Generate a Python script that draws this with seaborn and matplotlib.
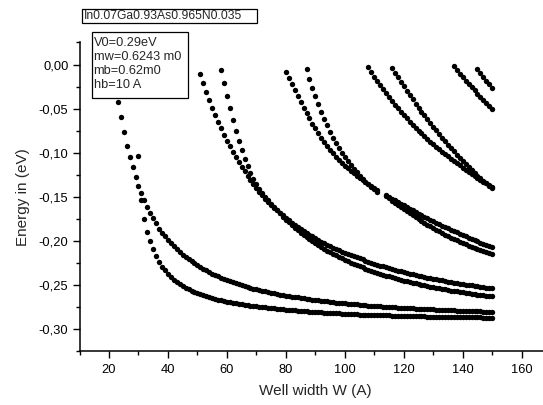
import numpy as np
import pandas as pd
import matplotlib
matplotlib.use("Agg")
import matplotlib.pyplot as plt
from matplotlib.ticker import MultipleLocator, AutoMinorLocator, FuncFormatter
from matplotlib.patches import Rectangle
import seaborn as sns

# Bound-state energies (eV) versus well width W (Angstrom), one entry per 1 A step.
# Each branch: first well width and the list of energies.
w_1a = 23
e_1a = [-0.042, -0.060, -0.0765, -0.092, -0.1045, -0.1166, -0.128, -0.138, -0.146, -0.154,
        -0.161, -0.168, -0.174, -0.180, -0.186,
        -0.1906, -0.1949, -0.1989, -0.2027, -0.2062, -0.2095, -0.2125, -0.2154, -0.2182, -0.2207,
        -0.2232, -0.2255, -0.2277,
        -0.2298, -0.2317, -0.2335, -0.2353, -0.2370, -0.2386, -0.2401, -0.2415, -0.2429, -0.2443,
        -0.2456, -0.2468, -0.2480, -0.2491, -0.2502, -0.2512, -0.2522, -0.2531, -0.2540, -0.2548,
        -0.2557, -0.2565, -0.2573, -0.2580, -0.2587, -0.2594, -0.2601, -0.2608, -0.2614, -0.2620,
        -0.2626, -0.2631, -0.2636, -0.2641, -0.2646, -0.2651, -0.2656, -0.2661, -0.2666, -0.2670,
        -0.2674, -0.2678, -0.2682, -0.2686, -0.2690, -0.2694, -0.2698, -0.2702, -0.2705, -0.2708,
        -0.2711, -0.2714, -0.2717, -0.2720, -0.2723, -0.2726, -0.2729, -0.2732, -0.2735, -0.2737,
        -0.2740, -0.2742, -0.2744, -0.2746, -0.2748, -0.2750, -0.2752, -0.2755, -0.2757, -0.2759,
        -0.2761, -0.2763, -0.2765, -0.2767, -0.2769, -0.2771, -0.2773, -0.2775, -0.2776, -0.2777,
        -0.2779, -0.2780, -0.2782, -0.2783, -0.2785, -0.2786, -0.2788, -0.2789, -0.2791, -0.2792,
        -0.2793, -0.2794, -0.2796, -0.2797, -0.2798, -0.2799, -0.2800, -0.2802, -0.2803, -0.2804]

w_1b = 30
e_1b = [-0.104, -0.154, -0.1755, -0.1896, -0.200, -0.2095, -0.217, -0.2236,
        -0.2290, -0.2335, -0.2375, -0.2410, -0.2440, -0.2466, -0.2489, -0.2510, -0.2529, -0.2546,
        -0.2562, -0.2577, -0.2591,
        -0.2604, -0.2616, -0.2627, -0.2637, -0.2647, -0.2656, -0.2665, -0.2673, -0.2681, -0.2688,
        -0.2695, -0.2701, -0.2707, -0.2713, -0.2718, -0.2723, -0.2728, -0.2733, -0.2737, -0.2741,
        -0.2745, -0.2749, -0.2753, -0.2757, -0.2761, -0.2765, -0.2768, -0.2771, -0.2775, -0.2778,
        -0.2781, -0.2784, -0.2787, -0.2790, -0.2793, -0.2796, -0.2799, -0.2801, -0.2804, -0.2806,
        -0.2808, -0.2810, -0.2812, -0.2814, -0.2816, -0.2818, -0.2820, -0.2822, -0.2824, -0.2826,
        -0.2828, -0.2829, -0.2831, -0.2832, -0.2834, -0.2835, -0.2836, -0.2837, -0.2839, -0.2840,
        -0.2841, -0.2842, -0.2843, -0.2844, -0.2845, -0.2846, -0.2847, -0.2848, -0.2849, -0.2850,
        -0.2851, -0.2852, -0.2853, -0.2854, -0.2854, -0.2855, -0.2856, -0.2857, -0.2857, -0.2858,
        -0.2859, -0.2859, -0.2860, -0.2861, -0.2861, -0.2862, -0.2862, -0.2863, -0.2863, -0.2864,
        -0.2865, -0.2865, -0.2866, -0.2866, -0.2867, -0.2867, -0.2868, -0.2868, -0.2869, -0.2870]

w_2a = 51
e_2a = [-0.0110, -0.0212, -0.0310, -0.0403, -0.0490, -0.0572, -0.0650, -0.0724, -0.0795, -0.0863,
        -0.0928, -0.0990, -0.1049, -0.1106, -0.1160, -0.1212, -0.1262, -0.1310, -0.1356, -0.1400,
        -0.1442, -0.1482, -0.1521, -0.1558,
        -0.1591, -0.1623, -0.1654, -0.1683, -0.1711, -0.1739,
        -0.1766, -0.1792, -0.1817, -0.1841, -0.1864, -0.1886, -0.1908, -0.1929, -0.1949, -0.1969,
        -0.1988, -0.2007, -0.2025, -0.2042, -0.2059, -0.2075, -0.2091, -0.2106, -0.2120, -0.2133,
        -0.2147, -0.2160, -0.2173, -0.2186, -0.2198, -0.2210, -0.2222, -0.2234, -0.2246, -0.2258,
        -0.2269, -0.2279, -0.2289, -0.2299, -0.2309, -0.2318, -0.2327, -0.2336, -0.2345, -0.2354,
        -0.2362, -0.2370, -0.2378, -0.2386, -0.2394, -0.2401, -0.2408, -0.2415, -0.2422, -0.2429,
        -0.2436, -0.2442, -0.2448, -0.2454, -0.2460, -0.2466, -0.2472, -0.2478, -0.2484, -0.2490,
        -0.2495, -0.2500, -0.2505, -0.2510, -0.2515, -0.2520, -0.2525, -0.2530, -0.2535, -0.2539]

w_2b = 58
e_2b = [-0.0062, -0.0213, -0.0358, -0.0496, -0.0627, -0.0750, -0.0865, -0.0971, -0.1068, -0.1155,
        -0.1232, -0.1299, -0.1358, -0.1410, -0.1457, -0.1500, -0.1540, -0.1577,
        -0.1615, -0.1652, -0.1688, -0.1724, -0.1759,
        -0.1791, -0.1821, -0.1850, -0.1879, -0.1907,
        -0.1933, -0.1958, -0.1982, -0.2006, -0.2029,
        -0.2050, -0.2071, -0.2091, -0.2111, -0.2130,
        -0.2148, -0.2165, -0.2182, -0.2199, -0.2215,
        -0.2230, -0.2245, -0.2260, -0.2274, -0.2288,
        -0.2301, -0.2314, -0.2326, -0.2338, -0.2350,
        -0.2361, -0.2372, -0.2383, -0.2393, -0.2403,
        -0.2413, -0.2422, -0.2431, -0.2440, -0.2449,
        -0.2457, -0.2465, -0.2473, -0.2481, -0.2489,
        -0.2497, -0.2504, -0.2511, -0.2518, -0.2525,
        -0.2532, -0.2538, -0.2544, -0.2550, -0.2556,
        -0.2562, -0.2568, -0.2573, -0.2578, -0.2583,
        -0.2588, -0.2593, -0.2598, -0.2603, -0.2608,
        -0.2613, -0.2617, -0.2621, -0.2625, -0.2629]

w_3a = 80
e_3a = [-0.0081, -0.0152, -0.0222, -0.0291, -0.0359, -0.0425, -0.0489, -0.0551, -0.0611, -0.0669,
        -0.0725, -0.0778, -0.0829, -0.0877, -0.0922, -0.0965, -0.1005, -0.1043, -0.1079, -0.1113,
        -0.1145, -0.1176, -0.1205, -0.1233, -0.1260, -0.1286, -0.1311, -0.1335, -0.1358, -0.1380,
        -0.1401, -0.1421]

w_3b = 87
e_3b = [-0.0054, -0.0160, -0.0261, -0.0357,
        -0.0448, -0.0534, -0.0615, -0.0691, -0.0762, -0.0828, -0.0890, -0.0948, -0.1002, -0.1052,
        -0.1099, -0.1143, -0.1184, -0.1223, -0.1260, -0.1295, -0.1328, -0.1359, -0.1388, -0.1415,
        -0.1440]

w_3c = 114
e_3c = [-0.1480, -0.1500, -0.1520, -0.1540, -0.1559, -0.1578, -0.1597, -0.1616, -0.1635, -0.1653,
        -0.1672, -0.1690, -0.1707, -0.1725, -0.1742, -0.1759, -0.1776, -0.1793, -0.1810, -0.1826,
        -0.1842, -0.1858, -0.1874, -0.1889, -0.1904, -0.1919, -0.1934, -0.1949, -0.1963, -0.1977,
        -0.1991, -0.2005, -0.2019, -0.2032, -0.2045, -0.2058, -0.2071]

w_3d = 114
e_3d = [-0.1490, -0.1516, -0.1542, -0.1567, -0.1591, -0.1616, -0.1640, -0.1663, -0.1686, -0.1708,
        -0.1731, -0.1752, -0.1773, -0.1794, -0.1815, -0.1834, -0.1854, -0.1873, -0.1892, -0.1910,
        -0.1928, -0.1945, -0.1962, -0.1978, -0.1994, -0.2010, -0.2025, -0.2040, -0.2054, -0.2068,
        -0.2081, -0.2094, -0.2107, -0.2119, -0.2131, -0.2142, -0.2153]

w_4a = 108
e_4a = [-0.0030, -0.0084, -0.0136, -0.0187, -0.0236, -0.0283, -0.0328, -0.0372, -0.0415, -0.0457,
        -0.0497, -0.0536, -0.0574, -0.0611, -0.0647, -0.0682, -0.0716, -0.0749, -0.0781, -0.0812,
        -0.0843, -0.0873, -0.0902, -0.0931, -0.0959, -0.0987, -0.1014, -0.1041, -0.1067, -0.1093,
        -0.1118, -0.1143, -0.1168, -0.1192, -0.1216, -0.1239, -0.1262, -0.1284, -0.1306, -0.1327,
        -0.1348, -0.1368, -0.1388]

w_4b = 116
e_4b = [-0.0043, -0.0095, -0.0147, -0.0198, -0.0249, -0.0299, -0.0348, -0.0396, -0.0443, -0.0489,
        -0.0534, -0.0578, -0.0621, -0.0664, -0.0706, -0.0747, -0.0788, -0.0828, -0.0868, -0.0907,
        -0.0946, -0.0984, -0.1021, -0.1058, -0.1094, -0.1129, -0.1163, -0.1196, -0.1228, -0.1259,
        -0.1289, -0.1318, -0.1346, -0.1373, -0.1399]

w_5a = 137
e_5a = [-0.0020, -0.0062, -0.0103, -0.0143, -0.0182, -0.0220, -0.0257, -0.0294, -0.0330, -0.0365,
        -0.0400, -0.0434, -0.0468, -0.0501]

w_5b = 145
e_5b = [-0.0050, -0.0095, -0.0139, -0.0182, -0.0224, -0.0265]

branches = {
    "1a": (w_1a, e_1a), "1b": (w_1b, e_1b),
    "2a": (w_2a, e_2a), "2b": (w_2b, e_2b),
    "3a": (w_3a, e_3a), "3b": (w_3b, e_3b), "3c": (w_3c, e_3c), "3d": (w_3d, e_3d),
    "4a": (w_4a, e_4a), "4b": (w_4b, e_4b),
    "5a": (w_5a, e_5a), "5b": (w_5b, e_5b),
}

material_label = "In0.07Ga0.93As0.965N0.035"
param_lines = ["V0=0.29eV", "mw=0.6243 m0", "mb=0.62m0", "hb=10 A"]
x_title = "Well width W (A)"
y_title = "Energy in (eV)"

rows = []
for name, (w0, energies) in branches.items():
    for i, e in enumerate(energies):
        rows.append({"branch": name, "W": w0 + i, "E": e})
df = pd.DataFrame(rows)

sns.set_style("ticks")
plt.rcParams["font.family"] = ["Liberation Sans", "DejaVu Sans"]

W_PX, H_PX = 543, 405
fig = plt.figure(figsize=(W_PX / 100, H_PX / 100), dpi=100)
ax = fig.add_axes([79.5 / W_PX, 1 - 351.2 / H_PX, 471.7 / W_PX, (351.2 - 42.45) / H_PX])

sns.scatterplot(data=df, x="W", y="E", color="black", s=15, linewidth=0,
                edgecolor=None, legend=False, ax=ax, zorder=3)

ax.set_xlim(10, 170)
ax.set_ylim(-0.325, 0.025)
ax.xaxis.set_major_locator(MultipleLocator(20))
ax.xaxis.set_minor_locator(AutoMinorLocator(2))
ax.yaxis.set_major_locator(MultipleLocator(0.05))
ax.yaxis.set_minor_locator(AutoMinorLocator(2))
ax.yaxis.set_major_formatter(FuncFormatter(lambda v, p: f"{v:.2f}".replace(".", ",")))

ax.tick_params(axis="both", which="major", direction="out", length=5, width=1.0,
               labelsize=9.3, color="black", labelcolor="black")
ax.tick_params(axis="both", which="minor", direction="out", length=3, width=1.0, color="black")
ax.tick_params(axis="x", which="major", pad=4)
ax.tick_params(axis="y", which="major", pad=3)

for side in ["top", "right"]:
    ax.spines[side].set_visible(False)
for side in ["left", "bottom"]:
    ax.spines[side].set_linewidth(1.1)
    ax.spines[side].set_color("black")

ax.set_xlabel(x_title, fontsize=11, labelpad=6)
ax.set_ylabel(y_title, fontsize=11, labelpad=6)


def px_box(x0, y0, x1, y1):
    return Rectangle((x0 / W_PX, 1 - y1 / H_PX), (x1 - x0) / W_PX, (y1 - y0) / H_PX,
                     transform=fig.transFigure, facecolor="white", edgecolor="black",
                     linewidth=0.9, zorder=10)


fig.patches.append(px_box(81.7, 9.3, 256.7, 22.7))
fig.text(83.5 / W_PX, 1 - 16.2 / H_PX, material_label, fontsize=8.7,
         ha="left", va="center", zorder=11)

fig.patches.append(px_box(91.7, 32.3, 188.3, 97.7))
for line, ypx in zip(param_lines, [43.5, 57.5, 71.0, 85.0]):
    fig.text(93.5 / W_PX, 1 - ypx / H_PX, line, fontsize=9.2,
             ha="left", va="center", zorder=11)

fig.savefig("out.png", dpi=100)
